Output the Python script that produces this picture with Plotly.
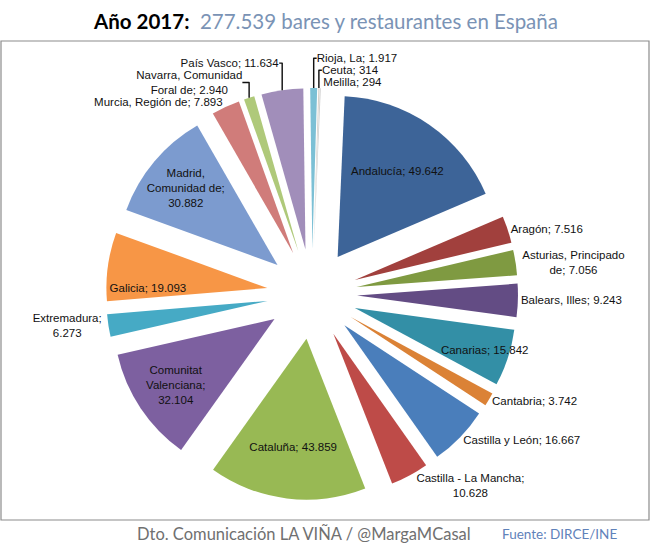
import plotly.graph_objects as go

regions = ["Andalucía", "Aragón", "Asturias, Principado de", "Balears, Illes", "Canarias",
           "Cantabria", "Castilla y León", "Castilla - La Mancha", "Cataluña",
           "Comunitat Valenciana", "Extremadura", "Galicia", "Madrid, Comunidad de",
           "Murcia, Región de", "Navarra, Comunidad Foral de", "País Vasco", "Rioja, La",
           "Ceuta", "Melilla"]
values = [49642, 7516, 7056, 9243, 15842, 3742, 16667, 10628, 43859, 32104, 6273,
          19093, 30882, 7893, 2940, 11634, 1917, 314, 294]
# label text as wrapped in the chart
display = ["Andalucía; ", "Aragón; ", "Asturias, Principado<br>de; ", "Balears, Illes; ",
           "Canarias; ", "Cantabria; ", "Castilla y León; ", "Castilla - La Mancha;<br>",
           "Cataluña; ", "Comunitat<br>Valenciana;<br>", "Extremadura;<br>", "Galicia; ",
           "Madrid,<br>Comunidad de;<br>", "Murcia, Región de; ",
           "Navarra, Comunidad<br>Foral de; ", "País Vasco; ", "Rioja, La; ",
           "Ceuta; ", "Melilla; "]
positions = ["inside", "outside", "outside", "outside", "inside", "outside", "outside",
             "outside", "inside", "inside", "outside", "inside", "inside", "outside",
             "outside", "outside", "outside", "outside", "outside"]
colors = ["#3D6498", "#A1403D", "#7F9A41", "#634C84", "#338FA6", "#DB8236",
          "#4A7EBB", "#BE4B48", "#98B954", "#7D60A0", "#46AAC5", "#F79646",
          "#7C9BCF", "#D07C7A", "#AFC97A", "#A18EBA", "#7CC0D5", "#D9D4CC", "#D0D0D0"]

total = sum(values)
title_total = f"{total:,}".replace(",", ".")

fig = go.Figure(go.Pie(
    labels=regions,
    values=values,
    sort=False,
    direction="clockwise",
    rotation=2.5,
    pull=0.28,
    marker=dict(colors=colors, line=dict(width=0)),
    texttemplate=[d + "%{value:,.0f}" for d in display],
    textposition=positions,
    insidetextorientation="horizontal",
    textfont=dict(family="Liberation Sans, Arial, sans-serif", size=11.5, color="#111111"),
    domain=dict(x=[0.16258, 0.79448], y=[0.10394, 0.84229]),
    showlegend=False,
    hoverinfo="none",
))

fig.update_layout(
    width=652, height=558,
    margin=dict(l=0, r=0, t=0, b=0, autoexpand=False),
    paper_bgcolor="white",
    separators=",.",
    uniformtext=dict(minsize=11.5, mode="show"),
    title=dict(
        text="<b>Año 2017:</b>  <span style='color:#7A93B5'>" + title_total +
             " bares y restaurantes en España</span>",
        x=0.5, xanchor="center", y=0.9606, yanchor="middle",
        font=dict(family="Lato, Open Sans, sans-serif", size=20.5, color="#000000"),
    ),
    shapes=[dict(type="rect", xref="paper", yref="paper",
                 x0=1/652, x1=649/652, y0=1-520/558, y1=1-41/558,
                 line=dict(color="#8C8C8C", width=1.2), fillcolor="rgba(0,0,0,0)",
                 layer="below")],
    annotations=[
        dict(text="Dto. Comunicación LA VIÑA / @MargaMCasal", xref="paper", yref="paper",
             x=304/652, y=1-534/558, xanchor="center", yanchor="middle", showarrow=False,
             font=dict(family="Lato, Open Sans, sans-serif", size=16.5, color="#707070")),
        dict(text="Fuente: DIRCE/INE", xref="paper", yref="paper",
             x=559/652, y=1-534/558, xanchor="center", yanchor="middle", showarrow=False,
             font=dict(family="Lato, Open Sans, sans-serif", size=13.5, color="#5F82BA")),
    ],
)

fig.write_html("out.html", config={"displayModeBar": False},
               post_script="document.body.style.margin='0';")
